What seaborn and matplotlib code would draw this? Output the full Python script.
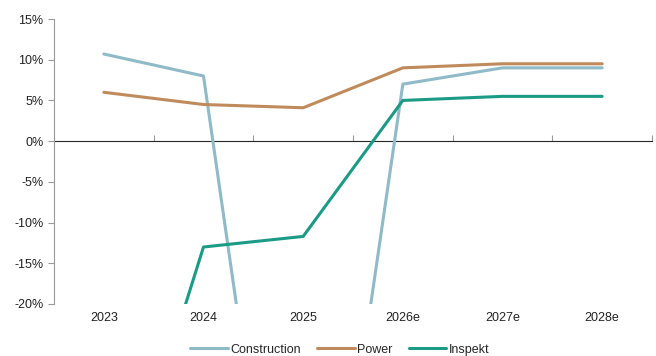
import pandas as pd
import numpy as np
import matplotlib
matplotlib.use('Agg')
import matplotlib.pyplot as plt
import seaborn as sns
from matplotlib.ticker import FuncFormatter

years = ['2023', '2024', '2025', '2026e', '2027e', '2028e']
construction = [10.7, 8.0, -77.0, 7.0, 9.0, 9.0]
power = [6.0, 4.5, 4.1, 9.0, 9.5, 9.5]
inspekt = [-52.0, -13.0, -11.7, 5.0, 5.5, 5.5]

series = ['Construction', 'Power', 'Inspekt']
colors = ['#8fbac8', '#c08b5c', '#1b9b85']

df = pd.DataFrame({
    'year': years * 3,
    'pos': list(range(len(years))) * 3,
    'series': ['Construction'] * 6 + ['Power'] * 6 + ['Inspekt'] * 6,
    'value': construction + power + inspekt,
})

sns.set_style('white')
plt.rcParams['font.family'] = ['Liberation Sans', 'DejaVu Sans']

fig = plt.figure(figsize=(6.56, 3.56), dpi=100)
ax = fig.add_axes([54/656, 1 - 304/356, (652-54)/656, (304-19)/356])

sns.lineplot(data=df, x='pos', y='value', hue='series', hue_order=series,
             palette=colors, linewidth=2.2, sort=False, ax=ax)

ax.set_xlim(-0.5, len(years) - 0.5)
ax.set_ylim(-20, 15)
ax.set_yticks(np.arange(-20, 16, 5))
ax.yaxis.set_major_formatter(FuncFormatter(lambda v, p: f'{v:.0f}%'))
ax.set_xticks(range(len(years)))
ax.set_xticklabels(years)
ax.set_xlabel('')
ax.set_ylabel('')

for s in ['top', 'right', 'bottom']:
    ax.spines[s].set_visible(False)
ax.spines['left'].set_color('#999999')
ax.tick_params(axis='x', length=0, pad=6, labelsize=9, colors='#222222')
ax.tick_params(axis='y', length=4, direction='out', color='#999999',
               labelsize=9, left=True)
for t in ax.get_yticklabels():
    t.set_color('#222222')

# zero line with category separators
sec = ax.secondary_xaxis(20 / 35)
sec.set_xticks(np.arange(0.5, len(years), 1))
sec.set_xticklabels([])
sec.tick_params(direction='out', length=4, color='#999999')
sec.spines['bottom'].set_color('#999999')
sec.spines['bottom'].set_linewidth(1.0)

ax.legend(loc='upper center', bbox_to_anchor=(0.478, -0.10), ncol=3,
          frameon=False, fontsize=9, handlelength=3.0, columnspacing=1.3,
          handletextpad=0.2)

fig.savefig('out.png', dpi=100)
